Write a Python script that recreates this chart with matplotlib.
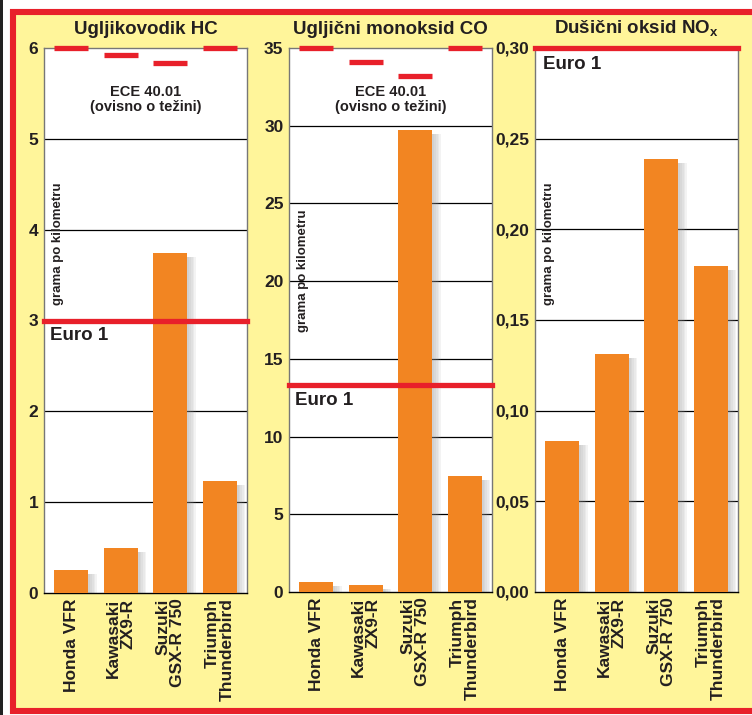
import matplotlib
matplotlib.use("Agg")
import matplotlib.pyplot as plt
import numpy as np
from matplotlib.patches import Rectangle
from matplotlib.transforms import ScaledTranslation

plt.rcParams['font.family'] = ['Liberation Sans', 'DejaVu Sans']
plt.rcParams['font.weight'] = 'bold'
plt.rcParams['mathtext.fontset'] = 'custom'
plt.rcParams['mathtext.rm'] = 'Liberation Sans:bold'
plt.rcParams['mathtext.bf'] = 'Liberation Sans:bold'

bikes = ["Honda VFR", "Kawasaki\nZX9-R", "Suzuki\nGSX-R 750", "Triumph\nThunderbird"]

hc = [0.25, 0.50, 3.74, 1.23]
co = [0.64, 0.45, 29.7, 7.45]
nox = [0.083, 0.131, 0.239, 0.180]

hc_ece = [6.0, 5.92, 5.84, 6.0]
co_ece = [35.0, 34.1, 33.2, 35.0]

euro1_hc = 3.0
euro1_co = 13.3
euro1_nox = 0.30

hc_ticks = [0, 1, 2, 3, 4, 5, 6]
co_ticks = [0, 5, 10, 15, 20, 25, 30, 35]
nox_ticks = [0.0, 0.05, 0.10, 0.15, 0.20, 0.25, 0.30]
nox_labels = ["0,00", "0,05", "0,10", "0,15", "0,20", "0,25", "0,30"]

YELLOW = '#FFF59A'
RED = '#E8202A'
ORANGE = '#F28522'
INK = '#231F20'

W, H = 752, 715
fig = plt.figure(figsize=(W / 100, H / 100), dpi=100)
fig.patch.set_facecolor('white')

# frame
fig.patches.append(Rectangle((12.5 / W, 1 - 710.5 / H), 760 / W, 699 / H,
                             transform=fig.transFigure, facecolor=YELLOW,
                             edgecolor=RED, linewidth=4.4, zorder=-5))
fig.patches.append(Rectangle((0, 0), 3 / W, 1, transform=fig.transFigure,
                             facecolor='#222222', edgecolor='none', zorder=-5))


def panel(left, bottom, title, vals, ticks, ticklabels, top, euro, euro_y,
          euro_x, ece=None, ylab_y=0.64):
    ax = fig.add_axes([left / W, 1 - bottom / H, 203 / W, (bottom - 48) / H])
    ax.set_facecolor('white')
    x = np.arange(len(vals))
    ax.set_xlim(-0.55, 3.55)
    ax.set_ylim(0, top)

    for t in ticks[1:-1]:
        ax.axhline(t, color='black', lw=0.9, zorder=1)

    # soft shadow
    for k in range(5):
        off = ScaledTranslation((2 + 1.6 * k) / 100, -4 / 100, fig.dpi_scale_trans)
        ax.bar(x, vals, width=0.69, color='#999999', alpha=0.11,
               transform=ax.transData + off, zorder=2)
    ax.bar(x, vals, width=0.69, color=ORANGE, zorder=3)

    ax.axhline(euro, color=RED, lw=3.8, zorder=5, clip_on=False)
    ax.text(euro_x, euro_y, "Euro 1", transform=ax.get_yaxis_transform(),
            fontsize=13.5, color=INK, va='center', ha='left', zorder=6)

    if ece is not None:
        for xi, v in zip(x, ece):
            ax.plot([xi - 0.34, xi + 0.34], [v, v], color=RED, lw=3.8,
                    solid_capstyle='butt', zorder=5, clip_on=False)
        ax.text(0.5, 0.906, "ECE 40.01\n(ovisno o težini)",
                transform=ax.transAxes, ha='center', va='center',
                fontsize=10.5, color=INK, linespacing=1.1)

    ax.text(0.068, ylab_y, "grama po kilometru", transform=ax.transAxes,
            rotation=90, ha='center', va='center', fontsize=9.5, color=INK)

    ax.set_yticks(ticks)
    ax.set_yticklabels(ticklabels, fontsize=12.5, color=INK)
    ax.set_xticks(x)
    ax.set_xticklabels(bikes, rotation=90, fontsize=12.5, color=INK,
                       ha='center', va='top', multialignment='right',
                       linespacing=0.95)
    ax.tick_params(axis='both', length=0, pad=4)
    for s in ['top', 'left', 'right']:
        ax.spines[s].set_color('#777777')
        ax.spines[s].set_linewidth(1)
    ax.spines['bottom'].set_color('black')
    ax.spines['bottom'].set_linewidth(1)
    ax.set_title(title, fontsize=13.5, fontweight='bold', color=INK, pad=10)
    return ax


panel(44, 593, "Ugljikovodik HC", hc, hc_ticks, [str(t) for t in hc_ticks],
      6, euro1_hc, 2.84, 0.03, hc_ece, 0.64)
panel(289, 592, "Ugljični monoksid CO", co, co_ticks, [str(t) for t in co_ticks],
      35, euro1_co, 12.35, 0.03, co_ece, 0.59)
panel(535, 592, r"Dušični oksid NO$_{\mathbf{x}}$", nox, nox_ticks, nox_labels,
      0.30, euro1_nox, 0.2907, 0.04, None, 0.64)

fig.savefig("out.png", dpi=100)
